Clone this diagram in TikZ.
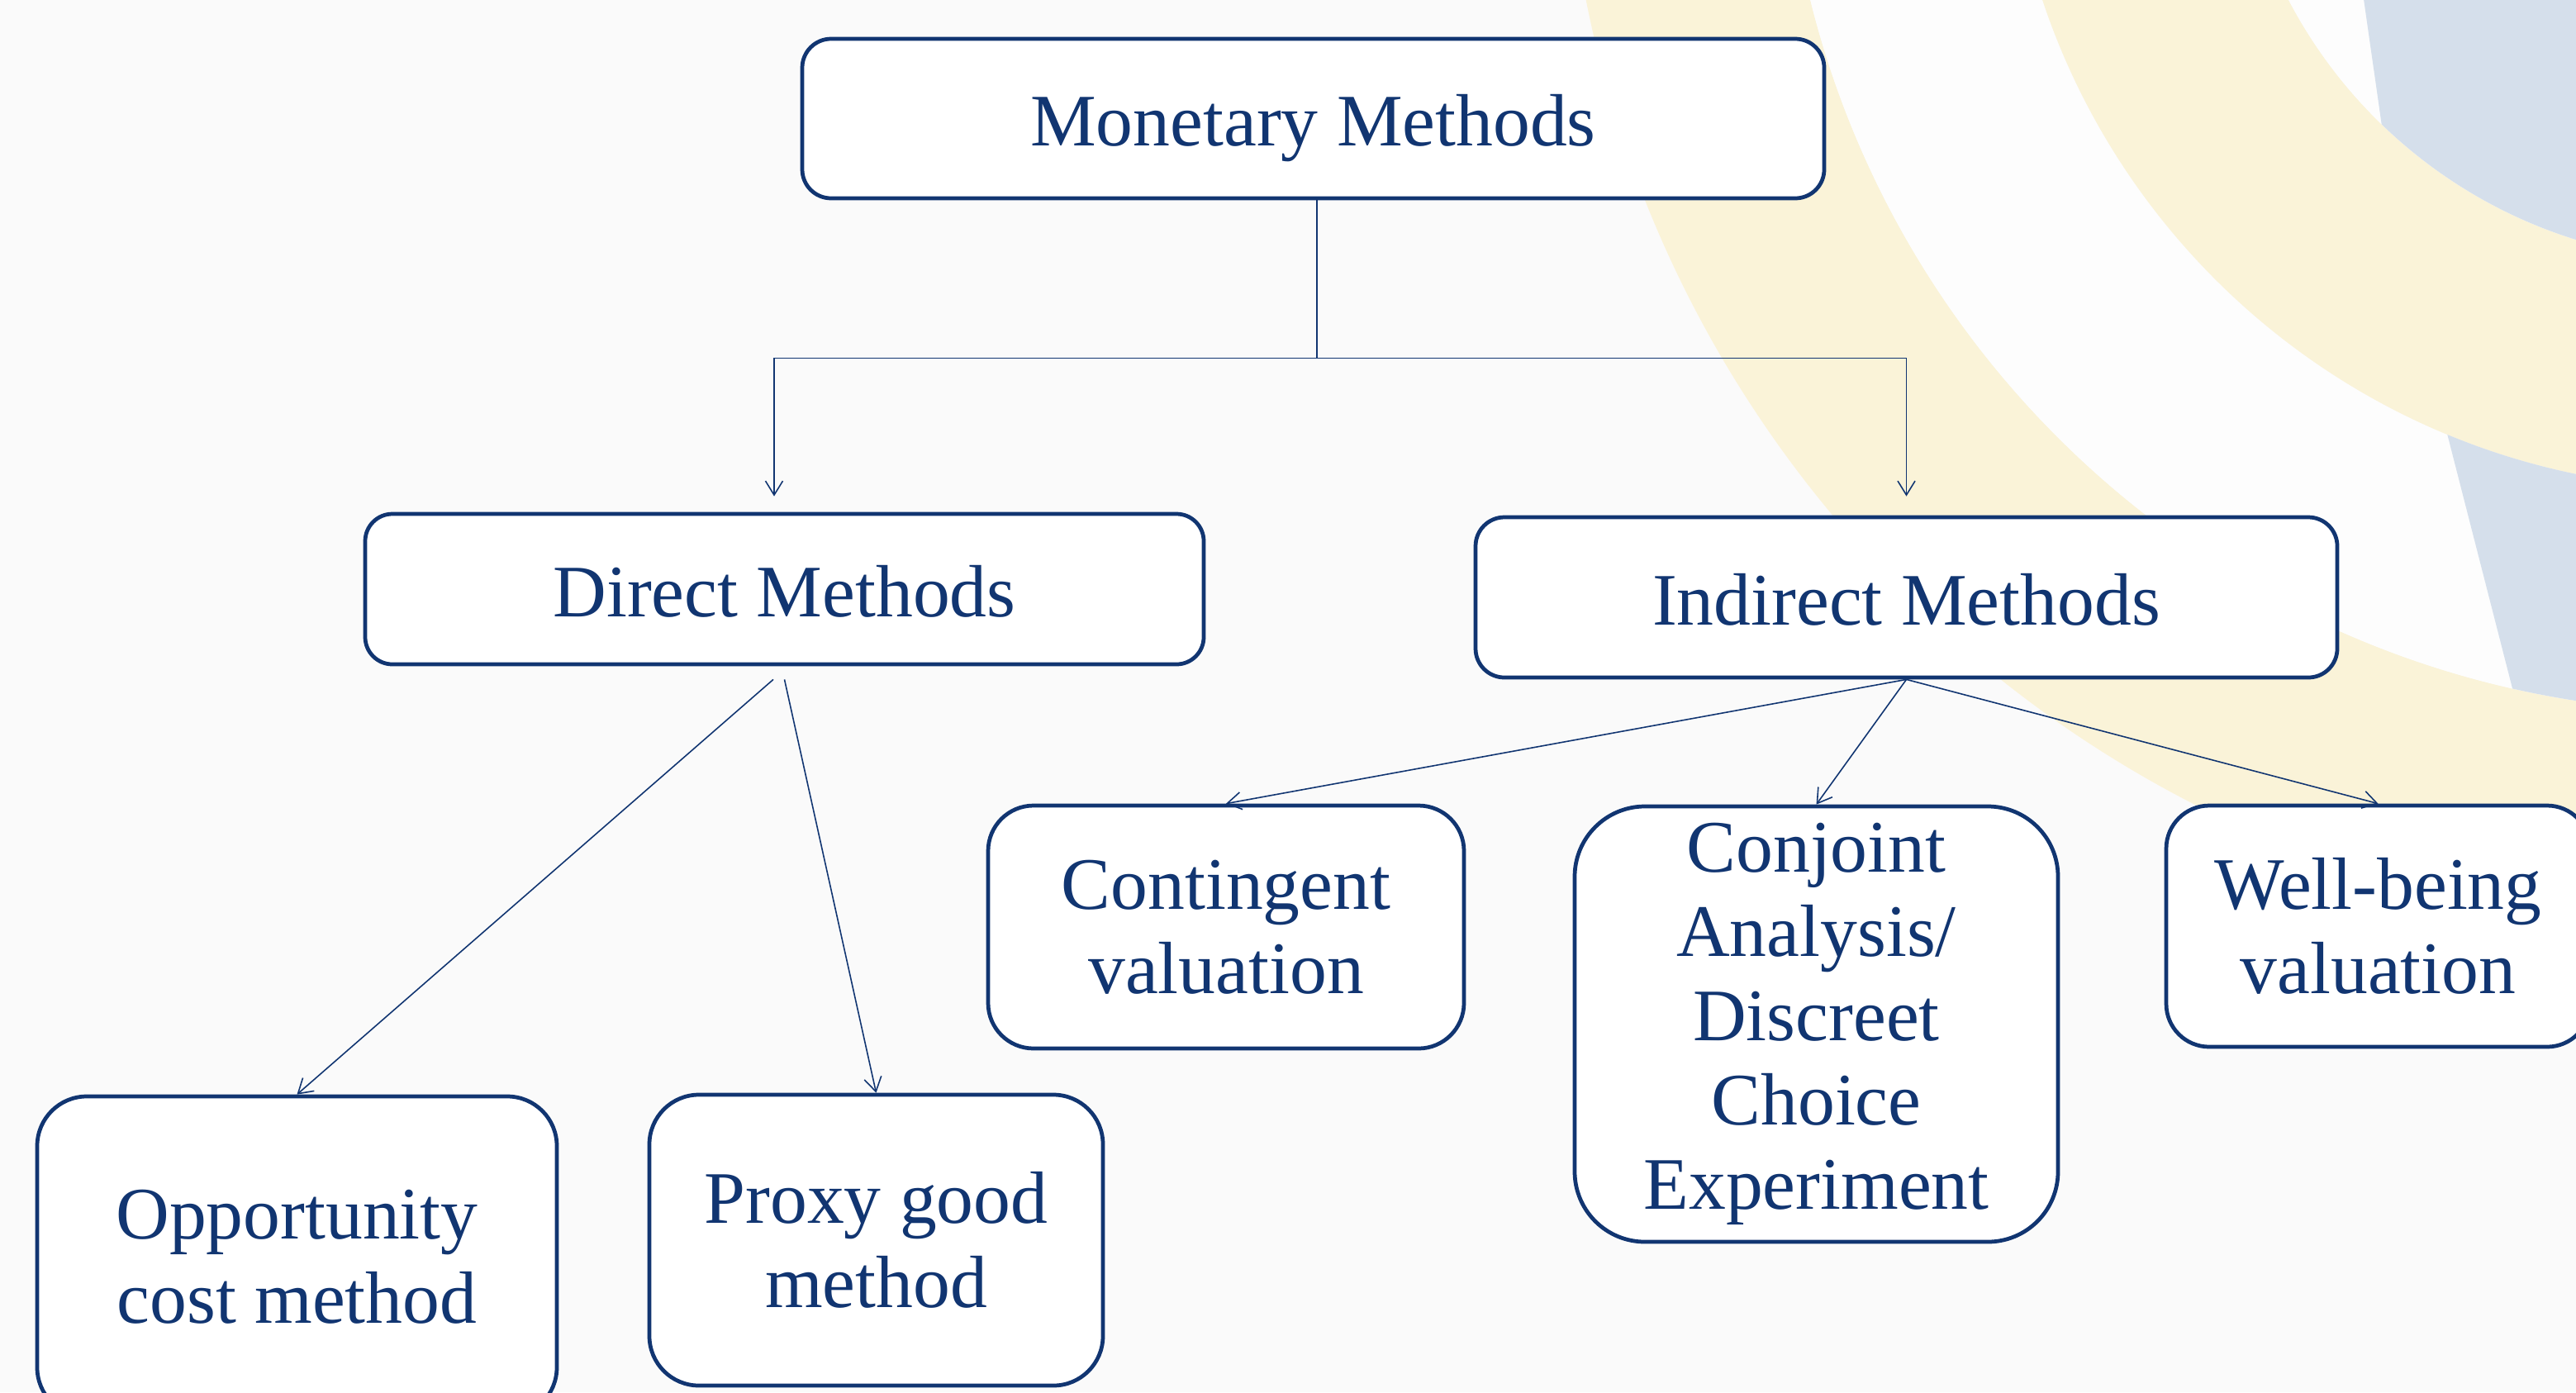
\documentclass[tikz,border=0pt]{standalone}
\usepackage{fontspec}
\setmainfont{Liberation Serif}
\usepackage{xcolor}
\usepackage{tikz}
\usetikzlibrary{arrows.meta}

\definecolor{navy}{RGB}{17,53,113}
\definecolor{slidegray}{RGB}{250,250,250}
\definecolor{bandyellow}{RGB}{250,243,216}
\definecolor{bandblue}{RGB}{213,223,235}

\tikzset{
  box/.style={draw=navy, line width=1.35pt, fill=white, text=navy, align=center, inner sep=0pt, font=\fontsize{25.5}{29}\selectfont},
  headbox/.style={box, text height=19pt, text depth=0pt},
  conn/.style={navy, line width=0.45pt, -{Straight Barb[length=1.7mm,width=2.1mm]}},
  plainconn/.style={navy, line width=0.45pt}
}

\begin{document}
\begin{tikzpicture}
  \useasboundingbox (0,0) rectangle (31.18,-16.85);
  \clip (0,0) rectangle (31.18,-16.85);
  \fill[slidegray] (0,0) rectangle (31.18,-16.85);
  \coordinate (hub) at (32.93,2.735);
  \fill[bandyellow, even odd rule] (hub) circle (14) (hub) circle (11.35);
  \fill[white!70!slidegray, even odd rule] (hub) circle (11.35) (hub) circle (8.65);
  \fill[bandyellow, even odd rule] (hub) circle (8.65) (hub) circle (5.9);
  \fill[white!70!slidegray] (hub) circle (5.9);
  \begin{scope}
    \clip (28.54,0.5) -- (29.47,-6) -- (32,-6) -- (32,0.5) -- cycle;
    \fill[bandblue] (hub) circle (5.9);
  \end{scope}
  \begin{scope}
    \clip (29.30,-4) -- (31.35,-12) -- (32,-12) -- (32,-4) -- cycle;
    \fill[bandblue, even odd rule] (hub) circle (11.35) (hub) circle (8.65);
  \end{scope}

  \node[headbox, minimum width=12.37cm, minimum height=1.93cm, rounded corners=0.35cm] (monetary) at (15.895,-1.435) {Monetary Methods};
  \node[headbox, minimum width=10.15cm, minimum height=1.82cm, rounded corners=0.33cm] (direct) at (9.495,-7.13) {Direct Methods};
  \node[headbox, minimum width=10.43cm, minimum height=1.94cm, rounded corners=0.35cm] (indirect) at (23.075,-7.23) {Indirect Methods};
  \node[box, minimum width=5.76cm, minimum height=2.94cm, rounded corners=0.55cm] (contingent) at (14.84,-11.22) {Contingent\\valuation};
  \node[box, minimum width=5.85cm, minimum height=5.27cm, rounded corners=0.85cm] (conjoint) at (21.985,-12.395) {Conjoint\\Analysis/\\Discreet\\Choice\\Experiment};
  \node[box, minimum width=5.13cm, minimum height=2.92cm, rounded corners=0.52cm] (wellbeing) at (28.785,-11.21) {Well-being\\valuation};
  \node[box, minimum width=6.29cm, minimum height=3.88cm, rounded corners=0.6cm] (opportunity) at (3.595,-15.21) {Opportunity\\cost method};
  \node[box, minimum width=5.49cm, minimum height=3.52cm, rounded corners=0.6cm] (proxy) at (10.605,-15.01) {Proxy good\\method};

  \draw[plainconn] ([xshift=0.45mm]monetary.south) -- ++(0,-1.91) coordinate (split);
  \draw[conn, shorten >=1.9mm] (split) -| ([xshift=-1.25mm]direct.north);
  \draw[conn, shorten >=2.3mm] (split) -| (indirect.north);
  \draw[conn] (indirect.south) -- (contingent.north);
  \draw[conn] (indirect.south) -- (conjoint.north);
  \draw[conn] (indirect.south) -- (wellbeing.north);
  \draw[conn] ([xshift=-1.35mm, yshift=-1.6mm]direct.south) -- (opportunity.north);
  \draw[conn] ([yshift=-1.6mm]direct.south) -- (proxy.north);
\end{tikzpicture}
\end{document}
